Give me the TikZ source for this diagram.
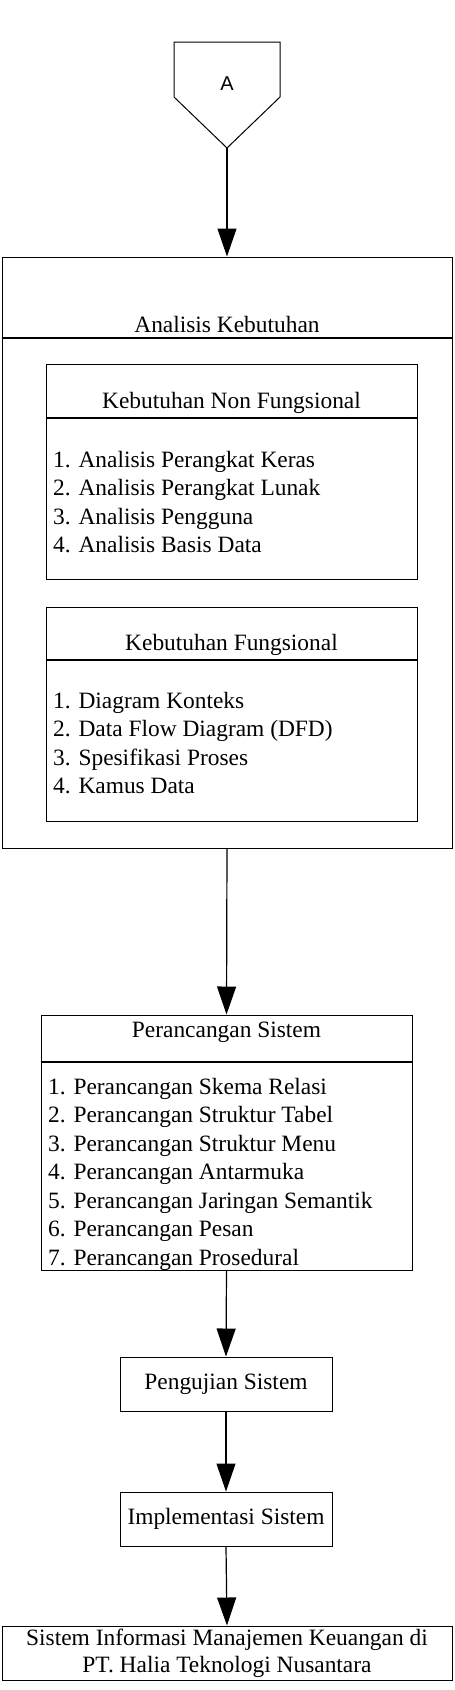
\documentclass[tikz,border=0pt]{standalone}
\usepackage{fontspec}
\setmainfont{Liberation Serif}
\newfontfamily\connfont{Liberation Sans}
\usetikzlibrary{arrows.meta}

\begin{document}
\begin{tikzpicture}[x=1pt, y=-1pt,
    box/.style={draw, line width=1pt, inner sep=0pt},
    txt/.style={font=\fontsize{23.4}{28.5}\selectfont, inner sep=0pt},
    sep/.style={line width=1.5pt},
    >={Triangle[width=19pt, length=28pt]}
]
  \useasboundingbox (0,0) rectangle (455,1690);
  % off-page connector
  \draw[line width=1pt] (174,42) -- (280,42) -- (280,97) -- (227,148) -- (174,97) -- cycle;
  \node[font=\connfont\fontsize{20}{24}\selectfont] (conA) at (227,84) {A};
  \coordinate (conAtip) at (227,148);
  % analisis kebutuhan
  \node[box, minimum width=450, minimum height=591] (analisis) at (227,552.5) {};
  \node[txt, anchor=base] (analisisT) at (227,332) {Analisis Kebutuhan};
  \draw[sep] (analisis.west |- 0,338) -- (analisis.east |- 0,338);
  \node[box, minimum width=371, minimum height=215] (nonfung) at (231.5,471.5) {};
  \node[txt, anchor=base] (nonfungT) at (231.5,408) {Kebutuhan Non Fungsional};
  \draw[sep] (nonfung.west |- 0,418) -- (nonfung.east |- 0,418);
  \node[txt, align=left, anchor=base west] (nonfungL) at (53,552.5)
    {1. Analisis Perangkat Keras\\2. Analisis Perangkat Lunak\\3. Analisis Pengguna\\4. Analisis Basis Data};
  \node[box, minimum width=371, minimum height=214] (fung) at (231.5,714) {};
  \node[txt, anchor=base] (fungT) at (231.5,650) {Kebutuhan Fungsional};
  \draw[sep] (fung.west |- 0,660) -- (fung.east |- 0,660);
  \node[txt, align=left, anchor=base west] (fungL) at (53,793.5)
    {1. Diagram Konteks\\2. Data Flow Diagram (DFD)\\3. Spesifikasi Proses\\4. Kamus Data};
  % perancangan sistem
  \node[box, minimum width=371, minimum height=255] (rancang) at (226.5,1142.5) {};
  \node[txt, anchor=base] (rancangT) at (226.5,1037) {Perancangan Sistem};
  \draw[sep] (rancang.west |- 0,1062) -- (rancang.east |- 0,1062);
  \node[txt, align=left, anchor=base west] (rancangL) at (48,1265)
    {1. Perancangan Skema Relasi\\2. Perancangan Struktur Tabel\\3. Perancangan Struktur Menu\\4. Perancangan Antarmuka\\5. Perancangan Jaringan Semantik\\6. Perancangan Pesan\\7. Perancangan Prosedural};
  \node[box, txt, minimum width=212, minimum height=54] (uji) at (226,1384) {Pengujian Sistem};
  \node[box, txt, minimum width=212, minimum height=54] (impl) at (226,1519) {Implementasi Sistem};
  \node[box, txt, align=center, font=\fontsize{23.4}{27}\selectfont, minimum width=450, minimum height=54] (simk) at (227,1653)
    {Sistem Informasi Manajemen Keuangan di\\PT. Halia Teknologi Nusantara};
  % arrows
  \draw[->, line width=1.2pt] (conAtip) -- (analisis.north);
  \draw[->, line width=1.2pt] (analisis.south) -- (rancang.north);
  \draw[->, line width=1.2pt] (rancang.south) -- (uji.north);
  \draw[->, line width=1.2pt] (uji.south) -- (impl.north);
  \draw[->, line width=1.2pt] (impl.south) -- (simk.north);
\end{tikzpicture}
\end{document}
